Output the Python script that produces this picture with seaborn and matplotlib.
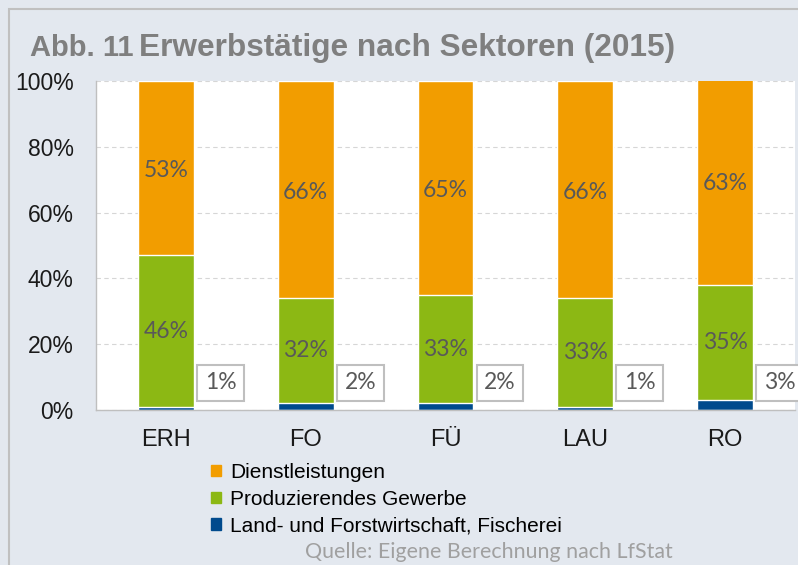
import matplotlib
matplotlib.use("Agg")
import matplotlib.pyplot as plt
from matplotlib.patches import Patch, Rectangle
import seaborn as sns
import pandas as pd

# Erwerbstaetige nach Sektoren 2015, Anteile in %
regions = ["ERH", "FO", "FÜ", "LAU", "RO"]
land = [1, 2, 2, 1, 3]          # Land- und Forstwirtschaft, Fischerei
prod = [46, 32, 33, 33, 35]     # Produzierendes Gewerbe
dienst = [53, 66, 65, 66, 63]   # Dienstleistungen
series_names = ["Dienstleistungen", "Produzierendes Gewerbe",
                "Land- und Forstwirtschaft, Fischerei"]
yticks = [0, 20, 40, 60, 80, 100]

c_dienst = "#F29D00"
c_prod = "#8CB814"
c_land = "#004A8D"
bg = "#E3E8EF"

df = pd.DataFrame({"region": regions, "land": land, "prod": prod, "dienst": dienst})
df["lp"] = df["land"] + df["prod"]
df["total"] = df["lp"] + df["dienst"]

sns.set_theme(style="white")
plt.rcParams["font.family"] = ["Liberation Sans", "DejaVu Sans"]

fig = plt.figure(figsize=(7.98, 5.65), dpi=100, facecolor=bg)
fig.patches.append(Rectangle((9/798, -0.1), 1.2, 1 - 9/565 + 0.1, transform=fig.transFigure,
                             fill=False, edgecolor="#C0C0C0", lw=1.5))
ax = fig.add_axes([96/798, 1 - 410/565, 699/798, 329/565])
ax.set_facecolor("white")

# stacked bars: draw cumulative totals, tallest first
sns.barplot(data=df, x="region", y="total", color=c_dienst, width=0.4, saturation=1, ax=ax)
sns.barplot(data=df, x="region", y="lp", color=c_prod, width=0.4, saturation=1, ax=ax)
sns.barplot(data=df, x="region", y="land", color=c_land, width=0.4, saturation=1, ax=ax)

ax.set_ylim(0, 100)
ax.set_xlim(-0.5, len(regions) - 0.5)
ax.set_yticks(yticks)
ax.set_yticklabels([f"{v}%" for v in yticks])
ax.set_xlabel("")
ax.set_ylabel("")
ax.grid(axis="y", color="#D6D6D6", linestyle=(0, (4, 3)), linewidth=0.8)
ax.set_axisbelow(True)
for s in ["top", "right"]:
    ax.spines[s].set_visible(False)
for s in ["left", "bottom"]:
    ax.spines[s].set_color("#BFBFBF")
    ax.spines[s].set_linewidth(1.0)
ax.tick_params(axis="y", length=0, pad=16, labelsize=16.5, labelcolor="#1A1A1A")
ax.tick_params(axis="x", which="major", length=0, pad=14, labelsize=17, labelcolor="#1A1A1A")
ax.set_xticks([i + 0.5 for i in range(len(regions) - 1)], minor=True)
ax.tick_params(axis="x", which="minor", length=6, width=1, color="#BFBFBF", direction="out")

lab_font = ["Lato", "DejaVu Sans"]
for i, r in df.iterrows():
    ax.text(i, r["lp"] + r["dienst"] / 2 - 0.8, f"{r['dienst']}%", ha="center", va="center",
            fontsize=16.5, color="#595959", family=lab_font)
    ax.text(i, r["land"] + r["prod"] / 2, f"{r['prod']}%", ha="center", va="center",
            fontsize=16.5, color="#595959", family=lab_font)
    ax.text(i + 0.39, 8.3, f"{r['land']}%", ha="center", va="center",
            fontsize=16.5, color="#595959", family=lab_font, clip_on=False,
            bbox=dict(boxstyle="square,pad=0.33", fc="white", ec="#BFBFBF", lw=1.5))

# title
fig.text(30/798, 1 - 48/565, "Abb. 11", fontsize=21, fontweight="bold", color="#7F7F7F", va="center")
fig.text(139/798, 1 - 48/565, "Erwerbstätige nach Sektoren (2015)", fontsize=22.8,
         fontweight="bold", color="#7F7F7F", va="center")

handles = [Patch(color=c_dienst), Patch(color=c_prod), Patch(color=c_land)]
fig.legend(handles, series_names, loc="upper left", bbox_to_anchor=(211/798, 1 - 463/565),
           frameon=False, fontsize=15, handlelength=0.48, handleheight=0.48,
           handletextpad=0.45, labelspacing=0.37, borderaxespad=0, borderpad=0,
           labelcolor="#000000")

fig.text(673/798, 1 - 552/565, "Quelle: Eigene Berechnung nach LfStat", fontsize=15.4,
         color="#A0A0A0", ha="right", va="center", family=lab_font)

fig.savefig("out.png", dpi=100, facecolor=bg)
